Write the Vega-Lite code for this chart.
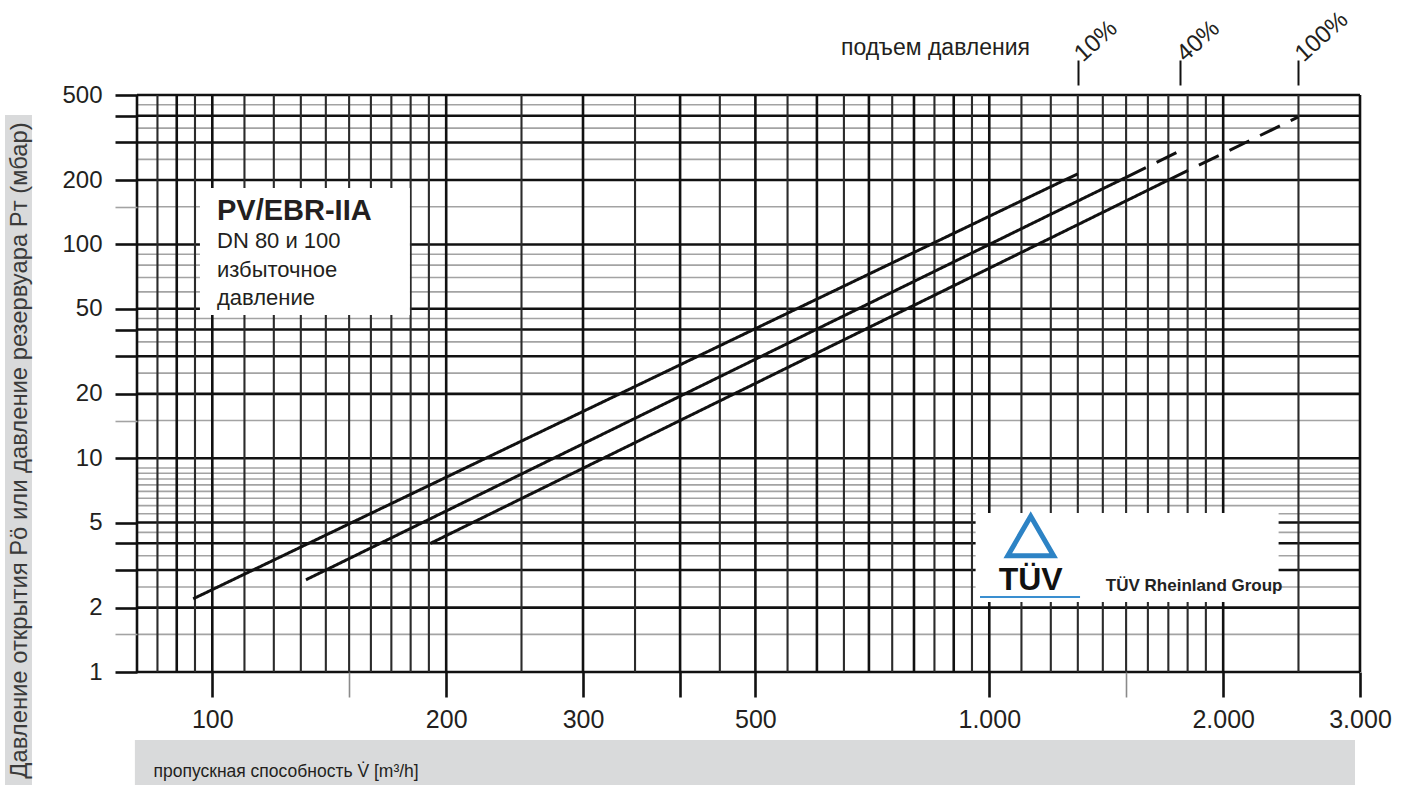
{
  "$schema": "https://vega.github.io/schema/vega-lite/v6.json",
  "width": 1223,
  "height": 577,
  "autosize": {"type": "none"},
  "padding": {"left": 137, "top": 95, "right": 49, "bottom": 113},
  "background": "white",
  "config": {
    "font": "Liberation Sans",
    "view": {"stroke": null},
    "axis": {"labelFont": "Liberation Sans", "titleFont": "Liberation Sans", "labelColor": "#231f20", "titleColor": "#231f20", "titleFontWeight": "normal", "domain": false, "grid": false}
  },
  "datasets": {
    "xgrid": [
      {"v": 80, "kind": "major"}, {"v": 85, "kind": "minor"}, {"v": 90, "kind": "major"}, {"v": 95, "kind": "minor"},
      {"v": 100, "kind": "major"}, {"v": 110, "kind": "minor"}, {"v": 120, "kind": "minor"}, {"v": 130, "kind": "minor"},
      {"v": 140, "kind": "minor"}, {"v": 150, "kind": "minor"}, {"v": 160, "kind": "minor"}, {"v": 170, "kind": "minor"},
      {"v": 180, "kind": "minor"}, {"v": 190, "kind": "minor"}, {"v": 200, "kind": "major"}, {"v": 250, "kind": "minor"},
      {"v": 300, "kind": "major"}, {"v": 350, "kind": "minor"}, {"v": 400, "kind": "major"}, {"v": 450, "kind": "minor"},
      {"v": 500, "kind": "major"}, {"v": 550, "kind": "minor"}, {"v": 600, "kind": "major"}, {"v": 650, "kind": "minor"},
      {"v": 700, "kind": "major"}, {"v": 750, "kind": "minor"}, {"v": 800, "kind": "major"}, {"v": 850, "kind": "minor"},
      {"v": 900, "kind": "major"}, {"v": 950, "kind": "minor"}, {"v": 1000, "kind": "major"}, {"v": 1100, "kind": "minor"},
      {"v": 1200, "kind": "minor"}, {"v": 1300, "kind": "minor"}, {"v": 1400, "kind": "minor"}, {"v": 1500, "kind": "minor"},
      {"v": 1600, "kind": "minor"}, {"v": 1700, "kind": "minor"}, {"v": 1800, "kind": "minor"}, {"v": 1900, "kind": "minor"},
      {"v": 2000, "kind": "major"}, {"v": 2500, "kind": "minor"}, {"v": 3000, "kind": "major"}
    ],
    "ygrid": [
      {"v": 1, "kind": "major"}, {"v": 1.5, "kind": "fine"}, {"v": 2, "kind": "major"}, {"v": 2.5, "kind": "fine"},
      {"v": 3, "kind": "major"}, {"v": 3.5, "kind": "fine"}, {"v": 4, "kind": "major"}, {"v": 4.5, "kind": "fine"},
      {"v": 5, "kind": "major"}, {"v": 5.5, "kind": "fine"}, {"v": 6, "kind": "fine"}, {"v": 6.5, "kind": "fine"},
      {"v": 7, "kind": "fine"}, {"v": 7.5, "kind": "fine"}, {"v": 8, "kind": "fine"}, {"v": 8.5, "kind": "fine"},
      {"v": 9, "kind": "fine"}, {"v": 10, "kind": "major"}, {"v": 15, "kind": "fine"}, {"v": 20, "kind": "major"},
      {"v": 25, "kind": "fine"}, {"v": 30, "kind": "major"}, {"v": 35, "kind": "fine"}, {"v": 40, "kind": "major"},
      {"v": 45, "kind": "fine"}, {"v": 50, "kind": "major"}, {"v": 60, "kind": "fine"}, {"v": 70, "kind": "fine"},
      {"v": 80, "kind": "fine"}, {"v": 90, "kind": "fine"}, {"v": 100, "kind": "major"}, {"v": 150, "kind": "fine"},
      {"v": 200, "kind": "major"}, {"v": 250, "kind": "fine"}, {"v": 300, "kind": "major"}, {"v": 350, "kind": "fine"},
      {"v": 400, "kind": "major"}, {"v": 450, "kind": "fine"}, {"v": 500, "kind": "major"}
    ],
    "curves": [
      {"curve": "10%", "seg": "solid", "q": 94.5, "p": 2.2},
      {"curve": "10%", "seg": "solid", "q": 1250, "p": 200},
      {"curve": "10%", "seg": "dashed", "q": 1250, "p": 200},
      {"curve": "10%", "seg": "dashed", "q": 1300, "p": 214},
      {"curve": "40%", "seg": "solid", "q": 132, "p": 2.7},
      {"curve": "40%", "seg": "solid", "q": 1500, "p": 206},
      {"curve": "40%", "seg": "dashed", "q": 1500, "p": 206},
      {"curve": "40%", "seg": "dashed", "q": 1760, "p": 274},
      {"curve": "100%", "seg": "solid", "q": 191, "p": 4.0},
      {"curve": "100%", "seg": "solid", "q": 1700, "p": 200},
      {"curve": "100%", "seg": "dashed", "q": 1700, "p": 200},
      {"curve": "100%", "seg": "dashed", "q": 2500, "p": 395}
    ],
    "rise": [
      {"rise": "10%", "v": 1300}, {"rise": "40%", "v": 1760}, {"rise": "100%", "v": 2500}
    ]
  },
  "resolve": {"axis": {"x": "independent", "y": "independent"}},
  "layer": [
    {
      "data": {"name": "ygrid"},
      "mark": {"type": "rule"},
      "encoding": {
        "y": {
          "field": "v", "type": "quantitative",
          "scale": {"type": "log", "domain": [1, 500], "nice": false},
          "axis": {
            "orient": "left",
            "values": [1, 1.5, 2, 3, 4, 5, 10, 15, 20, 30, 40, 50, 100, 150, 200, 300, 400, 500],
            "labelExpr": "indexof([1,2,5,10,20,50,100,200,500], datum.value) >= 0 ? format(datum.value, 'd') : ''",
            "tickSize": 22,
            "tickWidth": {"condition": {"test": "datum.value == 1.5 || datum.value == 15 || datum.value == 150", "value": 1.6}, "value": 2.6},
            "tickColor": {"condition": {"test": "datum.value == 1.5 || datum.value == 15 || datum.value == 150", "value": "#a3a3a3"}, "value": "#111111"},
            "labelFontSize": 24, "labelPadding": 13, "labelOverlap": false, "labelBound": false,
            "zindex": 1,
            "title": "Давление открытия Pö или давление резервуара Pт (мбар)",
            "titleFontSize": 23.8, "titleColor": "#3a3a3a", "titleAngle": 270,
            "titleX": -118, "titleY": 355, "titleAlign": "center", "titleBaseline": "middle"
          }
        },
        "color": {"field": "kind", "type": "nominal", "scale": {"domain": ["major", "minor", "fine"], "range": ["#111111", "#2b2b2b", "#a3a3a3"]}, "legend": null},
        "strokeWidth": {"field": "kind", "type": "ordinal", "scale": {"domain": ["major", "minor", "fine"], "range": [2.6, 1.6, 1.6]}, "legend": null}
      }
    },
    {
      "data": {"name": "xgrid"},
      "mark": {"type": "rule"},
      "encoding": {
        "x": {
          "field": "v", "type": "quantitative",
          "scale": {"type": "log", "domain": [80, 3000], "nice": false},
          "axis": {
            "orient": "bottom",
            "values": [100, 150, 200, 300, 400, 500, 1000, 1500, 2000, 3000],
            "labelExpr": "indexof([100,200,300,500,1000,2000,3000], datum.value) >= 0 ? replace(format(datum.value, ','), ',', '.') : ''",
            "tickSize": 25,
            "tickWidth": {"condition": {"test": "datum.value == 150 || datum.value == 1500", "value": 1.6}, "value": 2.6},
            "tickColor": {"condition": {"test": "datum.value == 150 || datum.value == 1500", "value": "#8a8a8a"}, "value": "#111111"},
            "labelFontSize": 25, "labelPadding": 10, "labelFlush": false, "labelOverlap": false, "labelBound": false,
            "zindex": 1,
            "title": "пропускная способность V̇ [m³/h]",
            "titleFontSize": 17.5, "titleColor": "#231f20",
            "titleX": 16, "titleY": 104, "titleAlign": "left", "titleBaseline": "alphabetic"
          }
        },
        "color": {"field": "kind", "type": "nominal", "scale": {"domain": ["major", "minor", "fine"], "range": ["#111111", "#2b2b2b", "#a3a3a3"]}, "legend": null},
        "strokeWidth": {"field": "kind", "type": "ordinal", "scale": {"domain": ["major", "minor", "fine"], "range": [2.6, 1.6, 1.6]}, "legend": null}
      }
    },
    {
      "data": {"values": [{}]},
      "mark": {"type": "rect", "fill": "#ffffff"},
      "encoding": {
        "x": {"datum": 96.4, "type": "quantitative", "scale": {"type": "log", "domain": [80, 3000], "nice": false}, "axis": null},
        "x2": {"datum": 179.6},
        "y": {"datum": 183.7, "type": "quantitative", "scale": {"type": "log", "domain": [1, 500], "nice": false}, "axis": null},
        "y2": {"datum": 46.8}
      }
    },
    {
      "data": {"values": [{}]},
      "mark": {"type": "rect", "fill": "#ffffff"},
      "encoding": {
        "x": {"datum": 960.3, "type": "quantitative", "scale": {"type": "log", "domain": [80, 3000], "nice": false}, "axis": null},
        "x2": {"datum": 2357},
        "y": {"datum": 5.544, "type": "quantitative", "scale": {"type": "log", "domain": [1, 500], "nice": false}, "axis": null},
        "y2": {"datum": 2.126}
      }
    },
    {
      "data": {"values": [{}]},
      "mark": {"type": "rect", "fill": "#d9dadb"},
      "encoding": {
        "x": {"datum": 54.1, "type": "quantitative", "scale": {"type": "log", "domain": [80, 3000], "nice": false}, "axis": null},
        "x2": {"datum": 58.6},
        "y": {"datum": 403, "type": "quantitative", "scale": {"type": "log", "domain": [1, 500], "nice": false}, "axis": null},
        "y2": {"datum": 0.296}
      }
    },
    {
      "data": {"values": [{}]},
      "mark": {"type": "rect", "fill": "#d9dadb"},
      "encoding": {
        "x": {"datum": 79.5, "type": "quantitative", "scale": {"type": "log", "domain": [80, 3000], "nice": false}, "axis": null},
        "x2": {"datum": 2956},
        "y": {"datum": 0.481, "type": "quantitative", "scale": {"type": "log", "domain": [1, 500], "nice": false}, "axis": null},
        "y2": {"datum": 0.296}
      }
    },
    {
      "data": {"name": "curves"},
      "mark": {"type": "line", "color": "#111111", "strokeWidth": 3},
      "encoding": {
        "x": {"field": "q", "type": "quantitative", "scale": {"type": "log", "domain": [80, 3000], "nice": false}, "axis": null},
        "y": {"field": "p", "type": "quantitative", "scale": {"type": "log", "domain": [1, 500], "nice": false}, "axis": null},
        "detail": {"field": "curve"},
        "strokeDash": {"field": "seg", "type": "nominal", "scale": {"domain": ["solid", "dashed"], "range": [[1, 0], [22, 12]]}, "legend": null},
        "order": {"field": "q", "type": "quantitative"}
      }
    },
    {
      "data": {"values": [{"t": "PV/EBR-IIA"}]},
      "mark": {"type": "text", "align": "left", "baseline": "alphabetic", "fontSize": 29, "fontWeight": "bold", "color": "#231f20"},
      "encoding": {
        "x": {"datum": 101.4, "type": "quantitative", "scale": {"type": "log", "domain": [80, 3000], "nice": false}, "axis": null},
        "y": {"datum": 130.1, "type": "quantitative", "scale": {"type": "log", "domain": [1, 500], "nice": false}, "axis": null},
        "text": {"field": "t"}
      }
    },
    {
      "data": {"values": [{"t": "DN 80 и 100|избыточное|давление"}]},
      "mark": {"type": "text", "align": "left", "baseline": "alphabetic", "fontSize": 22, "lineHeight": 28.5, "lineBreak": "|", "color": "#231f20"},
      "encoding": {
        "x": {"datum": 101.4, "type": "quantitative", "scale": {"type": "log", "domain": [80, 3000], "nice": false}, "axis": null},
        "y": {"datum": 96.2, "type": "quantitative", "scale": {"type": "log", "domain": [1, 500], "nice": false}, "axis": null},
        "text": {"field": "t"}
      }
    },
    {
      "data": {"values": [{}]},
      "mark": {"type": "point", "shape": "triangle-up", "filled": false, "stroke": "#2d83c5", "strokeWidth": 5, "size": 2100, "opacity": 1},
      "encoding": {
        "x": {"datum": 1130.6, "type": "quantitative", "scale": {"type": "log", "domain": [80, 3000], "nice": false}, "axis": null},
        "y": {"datum": 4.327, "type": "quantitative", "scale": {"type": "log", "domain": [1, 500], "nice": false}, "axis": null}
      }
    },
    {
      "data": {"values": [{"t": "TÜV"}]},
      "mark": {"type": "text", "align": "center", "baseline": "alphabetic", "fontSize": 32, "fontWeight": "bold", "color": "#111111"},
      "encoding": {
        "x": {"datum": 1130.6, "type": "quantitative", "scale": {"type": "log", "domain": [80, 3000], "nice": false}, "axis": null},
        "y": {"datum": 2.418, "type": "quantitative", "scale": {"type": "log", "domain": [1, 500], "nice": false}, "axis": null},
        "text": {"field": "t"}
      }
    },
    {
      "data": {"values": [{}]},
      "mark": {"type": "rule", "color": "#3a8fd0", "strokeWidth": 2},
      "encoding": {
        "x": {"datum": 972.9, "type": "quantitative", "scale": {"type": "log", "domain": [80, 3000], "nice": false}, "axis": null},
        "x2": {"datum": 1308.6},
        "y": {"datum": 2.243, "type": "quantitative", "scale": {"type": "log", "domain": [1, 500], "nice": false}, "axis": null}
      }
    },
    {
      "data": {"values": [{"t": "TÜV Rheinland Group"}]},
      "mark": {"type": "text", "align": "left", "baseline": "alphabetic", "fontSize": 17, "fontWeight": "bold", "color": "#222222"},
      "encoding": {
        "x": {"datum": 1412.7, "type": "quantitative", "scale": {"type": "log", "domain": [80, 3000], "nice": false}, "axis": null},
        "y": {"datum": 2.405, "type": "quantitative", "scale": {"type": "log", "domain": [1, 500], "nice": false}, "axis": null},
        "text": {"field": "t"}
      }
    },
    {
      "data": {"name": "rise"},
      "mark": {"type": "point", "opacity": 0},
      "encoding": {
        "x": {
          "field": "v", "type": "quantitative",
          "scale": {"type": "log", "domain": [80, 3000], "nice": false},
          "axis": {
            "orient": "top",
            "values": [1300, 1760, 2500],
            "labelExpr": "datum.value == 1300 ? '10%' : datum.value == 1760 ? '40%' : '100%'",
            "offset": 10, "tickSize": 25, "tickWidth": 2, "tickColor": "#111111",
            "labelAngle": -42, "labelAlign": "left", "labelBaseline": "middle", "labelPadding": 3,
            "labelFontSize": 24, "labelFlush": false, "labelOverlap": false, "labelBound": false,
            "title": "подъем давления", "titleFontSize": 23, "titleAngle": 0,
            "titleX": 798, "titleY": -31, "titleAlign": "center", "titleBaseline": "alphabetic"
          }
        }
      }
    }
  ]
}
